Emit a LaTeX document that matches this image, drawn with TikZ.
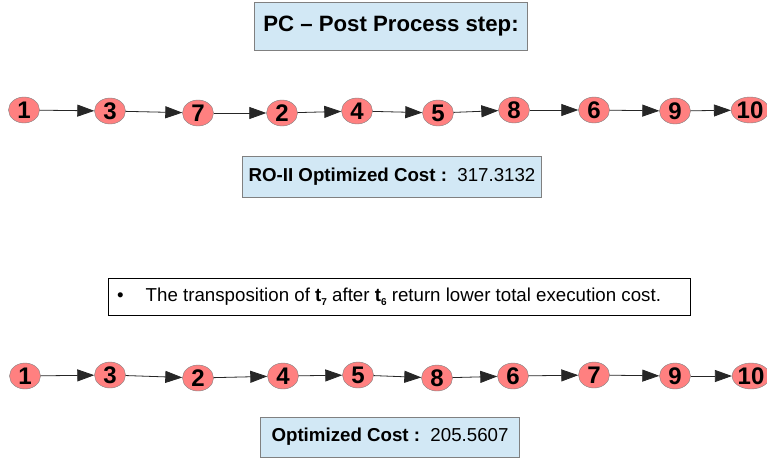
\documentclass[tikz,border=0pt]{standalone}
\usepackage{fontspec}
\setmainfont{Liberation Sans}
\usetikzlibrary{arrows.meta,shapes.geometric}
\definecolor{taskred}{RGB}{255,128,128}
\definecolor{costblue}{RGB}{210,232,245}
\tikzset{
  task/.style={ellipse, draw=gray, fill=taskred, minimum width=31pt, minimum height=26pt,
    inner sep=0pt, font=\fontsize{24}{24}\selectfont\bfseries},
  link/.style={draw=black!85, line width=0.8pt, -{Triangle[length=17pt,width=12pt]}},
  costbox/.style={draw=gray, fill=costblue, inner sep=0pt, font=\fontsize{18.7}{22}\selectfont}
}
\begin{document}
\begin{tikzpicture}[x=1pt, y=-1pt]
\useasboundingbox (0,0) rectangle (767,459);
\node[costbox, minimum width=273pt, minimum height=48pt, font=\fontsize{22.2}{26}\selectfont\bfseries] (title) at (391,26) {PC -- Post Process step:};
% first order
\foreach \n/\x/\y [count=\i] in {1/24/110,3/110/111,7/198/113,2/282/113,4/357/111,5/438/113,8/514/110,6/594/110,9/675/111,10/750/110}
  \node[task] (a\i) at (\x,\y) {\n};
\foreach \i [evaluate=\i as \j using int(\i+1)] in {1,...,9}
  \draw[link] (a\i) -- (a\j);
\node[costbox, minimum width=299pt, minimum height=41pt] (cost1) at (392,177) {\textbf{RO-II Optimized Cost :}\ \ 317.3132};
\node[draw=black, fill=white, minimum width=582pt, minimum height=37pt] (note) at (399,297) {};
\node[anchor=west, inner sep=0pt, font=\fontsize{18.7}{22}\selectfont] (notetext) at (117,297)
  {\textbullet\hspace{22pt}The transposition of \textbf{t}\raisebox{-4pt}{\fontsize{10}{10}\selectfont\bfseries 7} after \textbf{t}\raisebox{-4pt}{\fontsize{10}{10}\selectfont\bfseries 6} return lower total execution cost.};
% second order
\foreach \n/\x/\y [count=\i] in {1/25/376,3/110/375,2/198/378,4/283/376,5/358/375,8/437/378,6/513/376,7/594/375,9/675/376,10/751/376}
  \node[task] (b\i) at (\x,\y) {\n};
\foreach \i [evaluate=\i as \j using int(\i+1)] in {1,...,9}
  \draw[link] (b\i) -- (b\j);
\node[costbox, minimum width=259pt, minimum height=40pt] (cost2) at (390,437) {\textbf{Optimized Cost :}\ \ 205.5607};
\end{tikzpicture}
\end{document}
